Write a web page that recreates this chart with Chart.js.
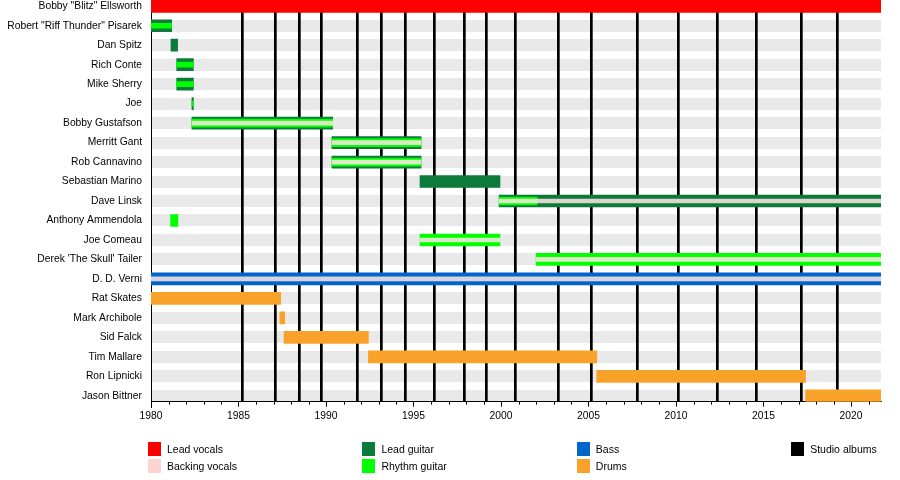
<!DOCTYPE html>
<html>
<head>
<title>Overkill members timeline</title>
<script src="https://cdnjs.cloudflare.com/ajax/libs/Chart.js/4.4.0/chart.umd.min.js"></script>
<style>
    body { margin: 0; background: #fff; font-family: "Liberation Sans", Arial, sans-serif; }
    .wrap { position: relative; width: 900px; height: 480px; }
    .legend-item { position: absolute; font-size: 10.5px; color: #000; white-space: nowrap; line-height: 14px; }
    .legend-item span.sw { position: absolute; left: 0; top: 0; width: 13px; height: 14px; }
    .legend-item span.tx { position: absolute; left: 19px; top: 0; }
</style>
</head>
<body>
<div class="wrap">
    <canvas id="timeline" width="900" height="480"></canvas>
</div>
<script>
    const members = [
        'Bobby "Blitz" Ellsworth', 'Robert "Riff Thunder" Pisarek', 'Dan Spitz', 'Rich Conte',
        'Mike Sherry', 'Joe', 'Bobby Gustafson', 'Merritt Gant', 'Rob Cannavino',
        'Sebastian Marino', 'Dave Linsk', 'Anthony Ammendola', 'Joe Comeau',
        "Derek 'The Skull' Tailer", 'D. D. Verni', 'Rat Skates', 'Mark Archibole',
        'Sid Falck', 'Tim Mallare', 'Ron Lipnicki', 'Jason Bittner'
    ];

    const xStart = 1980;
    const xEnd = 2021.71;
    const tickYears = [1980, 1985, 1990, 1995, 2000, 2005, 2010, 2015, 2020];

    // studio album release points
    const albumDates = [1985.22, 1987.13, 1988.5, 1989.75, 1991.79, 1993.14, 1994.53, 1996.19,
        1997.9, 1999.14, 2000.82, 2003.28, 2005.14, 2007.79, 2010.15, 2012.36, 2014.61,
        2017.18, 2019.22];

    // [member, from, to]
    const leadVocals = [
        ['Bobby "Blitz" Ellsworth', 1980, 2021.71]
    ];
    const leadGuitar = [
        ['Robert "Riff Thunder" Pisarek', 1980, 1981.18],
        ['Dan Spitz', 1981.14, 1981.52],
        ['Rich Conte', 1981.47, 1982.42],
        ['Mike Sherry', 1981.47, 1982.42],
        ['Joe', 1982.34, 1982.42],
        ['Bobby Gustafson', 1982.34, 1990.38],
        ['Merritt Gant', 1990.34, 1995.43],
        ['Rob Cannavino', 1990.34, 1995.43],
        ['Sebastian Marino', 1995.37, 1999.94],
        ['Dave Linsk', 1999.89, 2021.71]
    ];
    const rhythmGuitar = [
        ['Anthony Ammendola', 1981.12, 1981.54],
        ['Joe Comeau', 1995.37, 1999.94],
        ["Derek 'The Skull' Tailer", 2002.0, 2021.71]
    ];
    // rhythm guitar played alongside lead guitar
    const rhythmWithLead = [
        ['Robert "Riff Thunder" Pisarek', 1980, 1981.18],
        ['Rich Conte', 1981.47, 1982.42],
        ['Mike Sherry', 1981.47, 1982.42],
        ['Joe', 1982.34, 1982.42]
    ];
    // rhythm guitar alongside lead guitar and backing vocals
    const rhythmWithLeadVox = [
        ['Bobby Gustafson', 1982.34, 1990.38],
        ['Merritt Gant', 1990.34, 1995.43],
        ['Rob Cannavino', 1990.34, 1995.43],
        ['Dave Linsk', 1999.89, 2002.07]
    ];
    const bass = [
        ['D. D. Verni', 1980, 2021.71]
    ];
    const drums = [
        ['Rat Skates', 1980, 1987.41],
        ['Mark Archibole', 1987.36, 1987.64],
        ['Sid Falck', 1987.6, 1992.42],
        ['Tim Mallare', 1992.42, 2005.47],
        ['Ron Lipnicki', 2005.47, 2017.4],
        ['Jason Bittner', 2017.4, 2021.71]
    ];
    const backingVocals = [
        ['Bobby Gustafson', 1982.34, 1990.38],
        ['Merritt Gant', 1990.34, 1995.43],
        ['Rob Cannavino', 1990.34, 1995.43],
        ['Dave Linsk', 1999.89, 2021.71],
        ['Joe Comeau', 1995.37, 1999.94],
        ["Derek 'The Skull' Tailer", 2002.0, 2021.71],
        ['D. D. Verni', 1980, 2021.71]
    ];

    const legendLabels = ['Lead vocals', 'Backing vocals', 'Lead guitar', 'Rhythm guitar', 'Bass', 'Drums', 'Studio albums'];
    const legendColors = ['#ff0000', '#ffd2d2', '#0b7a3b', '#00ff00', '#0066cc', '#f8a229', '#000000'];

    function rows(list) {
        return list.map(r => ({ x: [r[1], r[2]], y: members.indexOf(r[0]) }));
    }

    function barSet(label, list, color, thickness, order) {
        return {
            label: label,
            data: rows(list),
            backgroundColor: color,
            barThickness: thickness,
            grouped: false,
            borderWidth: 0,
            order: order
        };
    }

    const minorTicks = {
        id: 'minorTicks',
        afterDraw(chart) {
            const s = chart.scales.x;
            const ctx = chart.ctx;
            ctx.save();
            ctx.strokeStyle = '#000';
            ctx.lineWidth = 1;
            for (let yr = Math.ceil(xStart); yr <= xEnd; yr++) {
                if (yr % 5 === 0) continue;
                const px = Math.round(s.getPixelForValue(yr)) + 0.5;
                ctx.beginPath();
                ctx.moveTo(px, s.top);
                ctx.lineTo(px, s.top + 3);
                ctx.stroke();
            }
            ctx.restore();
        }
    };

    const fontSpec = { family: '"Liberation Sans", Arial, sans-serif', size: 10.3 };

    new Chart(document.getElementById('timeline'), {
        type: 'bar',
        data: {
            datasets: [
                barSet('Lead vocals', leadVocals, '#ff0000', 12.5, 9),
                barSet('Lead guitar', leadGuitar, '#0b7a3b', 12, 8),
                barSet('Rhythm guitar', rhythmGuitar, '#00ff00', 12, 7),
                barSet('Bass', bass, '#0066cc', 12, 6),
                barSet('Drums', drums, '#f8a229', 12, 5),
                barSet('Rhythm guitar (with lead)', rhythmWithLead, '#00ff00', 5, 4),
                barSet('Rhythm guitar (with lead, vocals)', rhythmWithLeadVox, '#00ff00', 8, 3),
                barSet('Backing vocals', backingVocals, 'rgba(255,232,228,0.85)', 4, 2)
            ]
        },
        options: {
            indexAxis: 'y',
            responsive: false,
            animation: false,
            layout: { padding: { left: 0, right: 19, top: 0, bottom: 55 } },
            plugins: {
                legend: { display: false },
                tooltip: { enabled: false }
            },
            scales: {
                x: {
                    type: 'linear',
                    position: 'bottom',
                    min: xStart,
                    max: xEnd,
                    afterBuildTicks: s => { s.ticks = tickYears.map(v => ({ value: v })); },
                    ticks: {
                        color: '#000',
                        font: fontSpec,
                        padding: 3,
                        maxRotation: 0,
                        autoSkip: false,
                        callback: v => String(v)
                    },
                    grid: { drawOnChartArea: false, color: '#000', tickLength: 5 },
                    border: { color: '#000', width: 1 }
                },
                albums: {
                    type: 'linear',
                    position: 'top',
                    min: xStart,
                    max: xEnd,
                    afterBuildTicks: s => { s.ticks = albumDates.map(v => ({ value: v })); },
                    afterFit: s => { s.height = 0; s.paddingLeft = 0; s.paddingRight = 0; },
                    ticks: { display: false },
                    grid: { color: '#000', lineWidth: 2.7, drawTicks: false, z: -1 },
                    border: { display: false }
                },
                y: {
                    type: 'linear',
                    reverse: true,
                    offset: false,
                    min: -0.32,
                    max: 20.3,
                    afterBuildTicks: s => { s.ticks = members.map((m, i) => ({ value: i })); },
                    afterFit: s => { s.width = 151; s.paddingTop = 0; s.paddingBottom = 0; },
                    ticks: {
                        color: '#000',
                        font: fontSpec,
                        padding: 9,
                        autoSkip: false,
                        callback: v => members[v]
                    },
                    grid: { color: '#e9e9e9', lineWidth: 12, drawTicks: false, offset: false, z: -2 },
                    border: { color: '#000', width: 1 }
                }
            }
        },
        plugins: [minorTicks]
    });

    // legend: four columns, two rows
    const wrap = document.querySelector('.wrap');
    const legendCols = [0, 0, 1, 1, 2, 2, 3];
    const legendRows = [0, 1, 0, 1, 0, 1, 0];
    legendLabels.forEach((lab, i) => {
        const item = document.createElement('div');
        item.className = 'legend-item';
        item.style.left = (148 + legendCols[i] * 214.4) + 'px';
        item.style.top = (442 + legendRows[i] * 17) + 'px';
        const sw = document.createElement('span');
        sw.className = 'sw';
        sw.style.background = legendColors[i];
        const tx = document.createElement('span');
        tx.className = 'tx';
        tx.textContent = lab;
        item.appendChild(sw);
        item.appendChild(tx);
        wrap.appendChild(item);
    });
</script>
</body>
</html>
